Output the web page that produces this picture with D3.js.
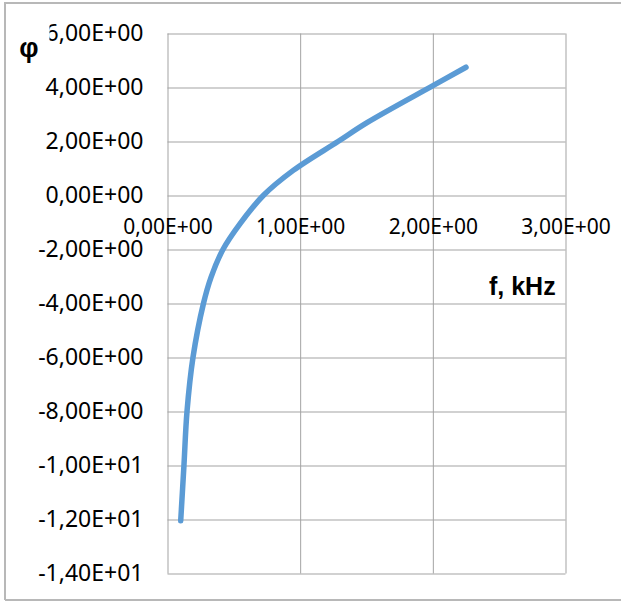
<!DOCTYPE html>
<html><head><meta charset="utf-8">
<script src="https://cdn.jsdelivr.net/npm/d3@7/dist/d3.min.js"></script>
<style>body{margin:0;background:#fff}svg{display:block}</style>
</head><body>
<svg id="chart" width="621" height="604"></svg>
<script>
// ---- data ----
const freqKHz = [0.0995, 0.124, 0.147, 0.192, 0.271, 0.328, 0.418, 0.546, 0.722, 0.948, 1.285, 1.504, 2.001, 2.25];
const phiValues = [-12.05, -10, -8, -6, -4, -3.03, -2, -1.05, 0, 0.93, 2.0, 2.7, 4.07, 4.75];
const yTickValues = [6, 4, 2, 0, -2, -4, -6, -8, -10, -12, -14];
const yTickLabels = ["6,00E+00","4,00E+00","2,00E+00","0,00E+00","-2,00E+00","-4,00E+00","-6,00E+00","-8,00E+00","-1,00E+01","-1,20E+01","-1,40E+01"];
const xTickValues = [0, 1, 2, 3];
const xTickLabels = ["0,00E+00","1,00E+00","2,00E+00","3,00E+00"];
const xTitle = "f, kHz";
const yTitle = "φ";

const svg = d3.select("#chart");
const L = 167.5, R = 565.5, T = 33.5, B = 573.5;
const x = d3.scaleLinear().domain([0, 3]).range([L, R]);
const y = d3.scaleLinear().domain([-14, 6]).range([B, T]);
const gridColor = "#a3a3a3";

// outer frame
svg.append("path")
  .attr("d", "M5,600 V3 H621 M5,600 H621")
  .attr("fill", "none").attr("stroke", "#b8b8b8").attr("stroke-width", 2);

// horizontal gridlines
const gy = svg.append("g").attr("transform", `translate(${L},0)`)
  .call(d3.axisLeft(y).tickValues(yTickValues).tickSize(-(R - L)).tickFormat(""));
gy.select(".domain").remove();
gy.selectAll("line").attr("stroke", gridColor).attr("stroke-width", 1);

// vertical gridlines
const gx = svg.append("g").attr("transform", `translate(0,${B})`)
  .call(d3.axisBottom(x).tickValues(xTickValues).tickSize(-(B - T)).tickFormat(""));
gx.select(".domain").remove();
gx.selectAll("line").attr("stroke", gridColor).attr("stroke-width", 1);

// y axis labels
const ya = svg.append("g").attr("transform", `translate(${L},0)`)
  .call(d3.axisLeft(y).tickValues(yTickValues).tickSize(0).tickPadding(24)
    .tickFormat((d, i) => yTickLabels[i]));
ya.select(".domain").remove();
ya.selectAll("text").attr("font-family", "'Noto Sans', sans-serif").attr("font-size", 23).attr("fill", "#000");

// x axis labels (axis crosses at y = 0)
const xa = svg.append("g").attr("transform", `translate(0,${y(0)})`)
  .call(d3.axisBottom(x).tickValues(xTickValues).tickSize(0).tickPadding(24)
    .tickFormat((d, i) => xTickLabels[i]));
xa.select(".domain").remove();
xa.selectAll("text").attr("font-family", "'Noto Sans', sans-serif").attr("font-size", 21).attr("fill", "#000");

// data line (smoothed)
const line = d3.line().x((d, i) => x(freqKHz[i])).y(d => y(d)).curve(d3.curveCatmullRom.alpha(0.5));
svg.append("path").datum(phiValues)
  .attr("d", line)
  .attr("fill", "none").attr("stroke", "#5B9BD5").attr("stroke-width", 5.5)
  .attr("stroke-linecap", "round").attr("stroke-linejoin", "round");

// y title with its white box (covers part of the top label, as in the reference)
svg.append("rect").attr("x", 7).attr("y", 14).attr("width", 42.5).attr("height", 54).attr("fill", "#fff");
svg.append("text").attr("x", 29).attr("y", 57).attr("text-anchor", "middle")
  .attr("font-family", "'Liberation Sans', Arial, sans-serif").attr("font-weight", "bold").attr("font-size", 27)
  .text(yTitle);

// x title
svg.append("text").attr("x", 489).attr("y", 295)
  .attr("font-family", "'Liberation Sans', Arial, sans-serif").attr("font-weight", "bold").attr("font-size", 25)
  .text(xTitle);
</script>
</body></html>
